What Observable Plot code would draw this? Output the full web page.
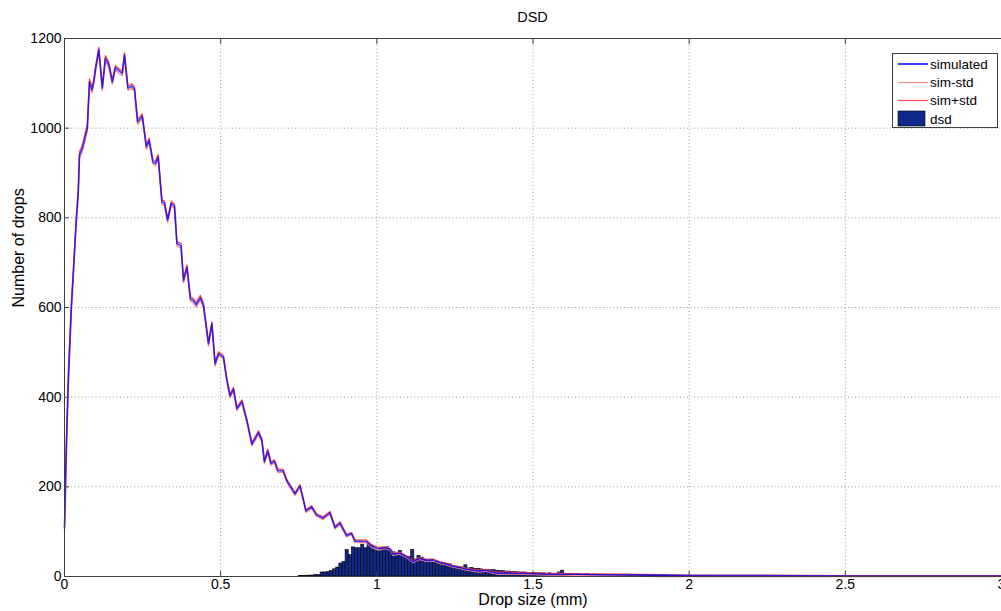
<!DOCTYPE html>
<html>
<head>
<meta charset="utf-8">
<script src="https://cdn.jsdelivr.net/npm/d3@7"></script>
<script src="https://cdn.jsdelivr.net/npm/@observablehq/plot@0.6"></script>
<style>
  body { margin: 0; background: #fff; font-family: "Liberation Sans", Arial, sans-serif; }
  #wrap { position: relative; width: 1001px; height: 611px; overflow: hidden; background: #fff; }
  #title { height: 30px; line-height: 34px; padding-left: 64px; text-align: center; font-size: 14.5px; color: #000; }
  #legend { position: absolute; left: 892px; top: 53px; }
</style>
</head>
<body>
<div id="wrap">
  <div id="title">DSD</div>
  <div id="chart"></div>
  <div id="legend"></div>
</div>
<script>
// ---- data ----
const sizes = [0, 0.004, 0.008, 0.013, 0.022, 0.030, 0.037, 0.044, 0.048, 0.057,
  0.073, 0.080, 0.088, 0.093, 0.099, 0.110, 0.121, 0.131, 0.142, 0.153,
  0.163, 0.178, 0.185, 0.192, 0.203, 0.216, 0.224, 0.234, 0.249, 0.262,
  0.271, 0.283, 0.291, 0.300, 0.312, 0.320, 0.330, 0.342, 0.352, 0.360,
  0.373, 0.381, 0.392, 0.403, 0.411, 0.422, 0.435, 0.445, 0.461, 0.472,
  0.482, 0.493, 0.509, 0.520, 0.530, 0.541, 0.552, 0.568, 0.584, 0.600,
  0.621, 0.632, 0.640, 0.651, 0.661, 0.672, 0.683, 0.700, 0.712, 0.722,
  0.738, 0.754, 0.773, 0.791, 0.807, 0.828, 0.850, 0.866, 0.882, 0.903,
  0.919, 0.930, 0.967, 0.983, 1.004, 1.026, 1.042, 1.052, 1.074, 1.095,
  1.116, 1.137, 1.158, 1.180, 1.201, 1.222, 1.243, 1.265, 1.286, 1.307,
  1.329, 1.350, 1.371, 1.393, 1.414, 1.440, 1.470, 1.500, 1.550, 1.600,
  1.650, 1.700, 1.800, 1.900, 2.000, 2.200, 2.500, 3.000];

const simulated = [108, 230, 340, 452, 600, 698, 787, 855, 940, 955,
  1000, 1103, 1085, 1100, 1130, 1175, 1089, 1156, 1141, 1103,
  1135, 1126, 1122, 1163, 1089, 1094, 1087, 1014, 1027, 958,
  973, 925, 921, 936, 835, 833, 795, 832, 826, 742,
  738, 660, 690, 619, 616, 606, 622, 604, 519, 564,
  474, 497, 489, 437, 403, 418, 374, 390, 347, 295,
  321, 303, 256, 280, 252, 257, 236, 236, 213, 202,
  184, 202, 146, 155, 137, 130, 142, 109, 119, 91,
  96, 79, 78, 68, 62, 64, 61, 50, 52, 44,
  33, 40, 36, 37, 31, 28, 23, 20, 16, 14,
  12, 14, 9, 7, 8, 7, 7, 6, 5, 5,
  5, 4, 4, 3, 2, 2, 1, 1];

const simMinusStd = [104, 205, 328, 436, 588, 690, 779, 846, 932, 948,
  992, 1096, 1078, 1094, 1123, 1170, 1083, 1150, 1135, 1098,
  1130, 1121, 1117, 1158, 1084, 1089, 1082, 1008, 1022, 953,
  968, 920, 916, 931, 830, 828, 790, 827, 821, 737,
  733, 655, 685, 614, 611, 601, 617, 599, 514, 560,
  469, 493, 485, 433, 399, 414, 370, 386, 343, 291,
  317, 299, 252, 276, 248, 254, 232, 233, 210, 199,
  181, 199, 143, 152, 134, 127, 139, 106, 116, 88,
  94, 76, 75, 65, 59, 62, 59, 47, 50, 42,
  31, 38, 34, 35, 29, 26, 21, 18, 14, 12,
  10, 12, 7, 5, 6, 5, 5, 4, 3, 3,
  2, 2, 1, 0, 0, 0, 0, 0];

const simPlusStd = [112, 262, 352, 470, 612, 706, 795, 866, 948, 962,
  1008, 1110, 1092, 1106, 1137, 1180, 1095, 1162, 1147, 1108,
  1140, 1131, 1127, 1168, 1094, 1099, 1092, 1020, 1032, 963,
  978, 930, 926, 941, 840, 838, 800, 837, 831, 747,
  743, 665, 695, 624, 621, 611, 627, 609, 524, 568,
  479, 501, 493, 441, 407, 422, 378, 394, 351, 299,
  325, 307, 260, 284, 256, 260, 240, 239, 216, 205,
  187, 205, 149, 158, 140, 133, 145, 112, 122, 94,
  98, 82, 81, 71, 65, 66, 63, 53, 54, 46,
  35, 42, 38, 39, 33, 30, 25, 22, 18, 16,
  14, 16, 11, 9, 10, 9, 9, 8, 7, 7,
  6, 6, 5, 4, 3, 3, 2, 2];

// measured drop-size histogram, bins of 0.01 mm starting at 0.75 mm
const dsdFirstBin = 0.75;
const dsdBinWidth = 0.01;
const dsdCounts = [1, 1, 1, 2, 2,
  3, 3, 9, 9, 10, 12, 16, 20, 29, 32,
  59, 48, 65, 63, 63, 71, 63, 72, 68, 60,
  57, 64, 62, 65, 58, 54, 51, 57, 46, 42,
  44, 59, 38, 46, 42, 38, 35, 34, 31, 32,
  29, 30, 28, 27, 24, 22, 21, 20, 25, 18,
  19, 17, 17, 16, 15, 15, 14, 14, 13, 12,
  12, 11, 11, 10, 10, 9, 9, 9, 8, 8,
  8, 7, 7, 7, 6, 7, 6, 6, 9, 13,
  6, 5, 5, 4, 5, 4, 4, 5, 3, 4,
  4, 3, 4, 3, 3, 2, 3, 3, 2, 3,
  2, 2, 3, 2, 1, 2, 2, 1, 2, 1,
  1, 2, 1, 1, 1, 2, 1, 1, 0, 1,
  1, 0, 1, 0, 1, 0, 0, 1, 0, 0];

const xTicks = [0, 0.5, 1, 1.5, 2, 2.5, 3];
const yTicks = [0, 200, 400, 600, 800, 1000, 1200];
const seriesNames = ["simulated", "sim-std", "sim+std", "dsd"];
const seriesColors = ["#0000ff", "#ff8c8c", "#ff4a4a", "#102a8c"];

// ---- tables ----
const simTable = sizes.map((s, i) => ({size: s, sim: simulated[i], minus: simMinusStd[i], plus: simPlusStd[i]}));
const dsdTable = dsdCounts.map((c, i) => {
  const x1 = +(dsdFirstBin + i * dsdBinWidth).toFixed(3);
  return {x1, x2: +(x1 + dsdBinWidth).toFixed(3), count: c};
}).filter(d => d.count > 0);

const axisColor = "#404040";
const fontFamily = "'Liberation Sans', Arial, sans-serif";

const chart = Plot.plot({
  width: 1001,
  height: 581,
  marginTop: 8,
  marginBottom: 35,
  marginLeft: 64,
  marginRight: 0,
  style: {fontFamily, fontSize: "14px", color: "#000", background: "#fff", overflow: "visible"},
  x: {domain: [0, 3]},
  y: {domain: [0, 1200]},
  marks: [
    Plot.gridX(xTicks, {stroke: "#9a9a9a", strokeOpacity: 1, strokeDasharray: "1,2.5"}),
    Plot.gridY(yTicks, {stroke: "#9a9a9a", strokeOpacity: 1, strokeDasharray: "1,2.5"}),
    Plot.rectY(dsdTable, {x1: "x1", x2: "x2", y: "count", fill: seriesColors[3], stroke: "#000", strokeWidth: 0.6}),
    Plot.line(simTable, {x: "size", y: "minus", stroke: seriesColors[1], strokeWidth: 1.3}),
    Plot.line(simTable, {x: "size", y: "plus", stroke: seriesColors[2], strokeWidth: 1.3}),
    Plot.line(simTable, {x: "size", y: "sim", stroke: seriesColors[0], strokeWidth: 1.6, strokeOpacity: 0.75}),
    Plot.ruleY([0], {stroke: axisColor}),
    Plot.ruleY([1200], {stroke: axisColor}),
    Plot.ruleX([0], {stroke: axisColor}),
    Plot.axisX({ticks: xTicks, tickSize: -5, tickPadding: 8, stroke: axisColor, tickFormat: d => String(d), label: null}),
    Plot.axisX({anchor: "top", ticks: xTicks, tickSize: -5, stroke: axisColor, tickFormat: () => "", label: null}),
    Plot.axisY({ticks: yTicks, tickSize: -5, tickPadding: 8, stroke: axisColor, tickFormat: d => String(d), label: null}),
    Plot.text(["Drop size (mm)"], {frameAnchor: "bottom", dy: 28, fontSize: 16, fill: "#000"}),
    Plot.text(["Number of drops"], {frameAnchor: "left", dx: -46, rotate: -90, fontSize: 16, fill: "#000", letterSpacing: "1px"})
  ]
});
document.getElementById("chart").appendChild(chart);

// ---- legend ----
const ns = "http://www.w3.org/2000/svg";
const lg = document.createElementNS(ns, "svg");
lg.setAttribute("width", 106);
lg.setAttribute("height", 75);
lg.style.fontFamily = fontFamily;
lg.style.fontSize = "13.5px";
const box = document.createElementNS(ns, "rect");
box.setAttribute("x", 0.5); box.setAttribute("y", 0.5);
box.setAttribute("width", 105); box.setAttribute("height", 74);
box.setAttribute("fill", "#fff"); box.setAttribute("stroke", axisColor);
lg.appendChild(box);
const rowY = [11, 29.5, 47.5, 66];
seriesNames.forEach((name, i) => {
  if (i < 3) {
    const l = document.createElementNS(ns, "line");
    l.setAttribute("x1", 6); l.setAttribute("x2", 36);
    l.setAttribute("y1", rowY[i]); l.setAttribute("y2", rowY[i]);
    l.setAttribute("stroke", seriesColors[i]); l.setAttribute("stroke-width", i === 0 ? 1.5 : 1.2);
    lg.appendChild(l);
  } else {
    const r = document.createElementNS(ns, "rect");
    r.setAttribute("x", 6); r.setAttribute("y", rowY[i] - 8);
    r.setAttribute("width", 27); r.setAttribute("height", 15);
    r.setAttribute("fill", seriesColors[3]); r.setAttribute("stroke", "#000"); r.setAttribute("stroke-width", 0.6);
    lg.appendChild(r);
  }
  const t = document.createElementNS(ns, "text");
  t.setAttribute("x", 38); t.setAttribute("y", rowY[i]);
  t.setAttribute("dy", "0.35em");
  t.setAttribute("fill", "#000");
  t.textContent = name;
  lg.appendChild(t);
});
document.getElementById("legend").appendChild(lg);
</script>
</body>
</html>
